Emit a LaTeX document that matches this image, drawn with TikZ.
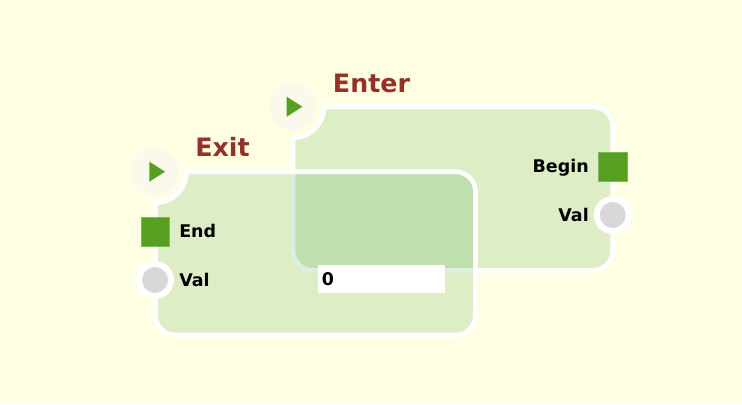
\documentclass[tikz,border=0pt]{standalone}
\usepackage{fontspec}
\setmainfont{DejaVu Sans}
\definecolor{bgc}{RGB}{255,255,228}
\definecolor{blockc}{RGB}{45,150,52}
\definecolor{titlec}{RGB}{148,49,40}
\definecolor{greenc}{RGB}{86,159,33}
\definecolor{playc}{RGB}{251,248,236}
\definecolor{grayc}{RGB}{216,216,216}
\tikzset{
  blockshape/.style={draw=white,line width=3.5pt,fill=blockc,fill opacity=.16,line join=round},
  titletext/.style={inner sep=0pt,text=titlec,font=\fontsize{19pt}{20pt}\selectfont\bfseries},
  labeltext/.style={inner sep=0pt,text=black,font=\fontsize{13.1pt}{14pt}\selectfont\bfseries},
  playdisc/.style={circle,fill=playc,inner sep=0pt,minimum size=36pt},
  playtri/.style={fill=greenc},
  execport/.style={rectangle,fill=greenc,draw=greenc!75!white,line width=.5pt,inner sep=0pt,minimum size=21.5pt},
  valport/.style={circle,fill=grayc,draw=white,line width=4.5pt,inner sep=0pt,minimum size=24pt},
  inputbox/.style={rectangle,fill=white,inner sep=0pt,minimum width=95pt,minimum height=21pt}
}
\begin{document}
\begin{tikzpicture}[x=.75pt,y=-.75pt]
\useasboundingbox[fill=bgc] (0,0) rectangle (742,404);
% Enter block
\path[blockshape] (293,137.7) .. controls (310.1,137.7) and (324,123.8) .. (324,106.7)
  [rounded corners=15pt] -- (612.7,106.7) -- (612.7,270.5) -- (293,270.5) [sharp corners] -- cycle;
% Exit block
\path[blockshape] (155.5,202.7) .. controls (172.6,202.7) and (186.5,188.8) .. (186.5,171.7)
  [rounded corners=15pt] -- (475.5,171.7) -- (475.5,335) -- (155.5,335) [sharp corners] -- cycle;
% Enter furniture
\node[playdisc] (enterplay) at (292.7,106.7) {};
\path[playtri] (286.7,96.7) -- (302.3,106.7) -- (286.7,116.7) -- cycle;
\node[titletext,anchor=base west] (entertitle) at (332.7,92.9) {Enter};
\node[execport] (beginport) at (612.8,166.8) {};
\node[valport] (enterval) at (612.7,215) {};
\node[labeltext,anchor=base east] (beginlabel) at (589,172.9) {Begin};
\node[labeltext,anchor=base east] (entervallabel) at (589,221) {Val};
% Exit furniture
\node[playdisc] (exitplay) at (155,171.7) {};
\path[playtri] (149.3,161.7) -- (165,171.7) -- (149.3,181.7) -- cycle;
\node[titletext,anchor=base west] (exittitle) at (195,156.9) {Exit};
\node[execport] (endport) at (155.3,232) {};
\node[valport] (exitval) at (155,280) {};
\node[labeltext,anchor=base west] (endlabel) at (179,237.7) {End};
\node[labeltext,anchor=base west] (exitvallabel) at (179,286) {Val};
% Input
\node[inputbox] (input) at (381.8,279) {};
\node[labeltext,anchor=base west] (inputtext) at (321.5,285.7) {0};
\end{tikzpicture}
\end{document}
